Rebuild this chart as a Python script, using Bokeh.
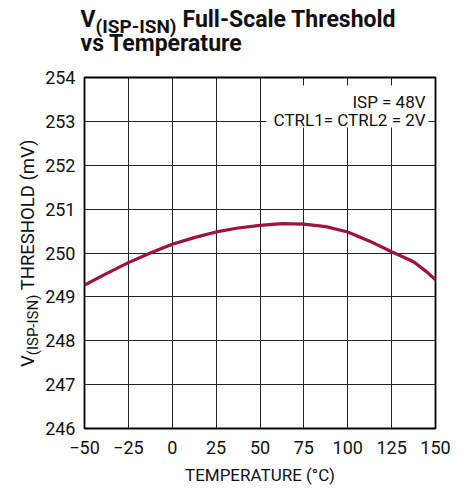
from bokeh.plotting import figure
from bokeh.layouts import column, row
from bokeh.models import Label, BoxAnnotation, Range1d, FixedTicker, Div
from bokeh.embed import file_html
from bokeh.resources import INLINE

# ---- data ----
temperature = [-50, -37.5, -25, -12.5, 0, 12.5, 25, 37.5, 50, 62.5, 75, 87.5, 100, 112.5, 125, 137.5, 145, 150]
threshold_mv = [249.27, 249.53, 249.78, 250.00, 250.20, 250.35, 250.48, 250.57, 250.63, 250.67, 250.66, 250.60,
                250.48, 250.27, 250.03, 249.80, 249.57, 249.39]
x_ticks = [-50, -25, 0, 25, 50, 75, 100, 125, 150]
x_tick_labels = ["\u221250", "\u221225", "0", "25", "50", "75", "100", "125", "150"]
y_ticks = [246, 247, 248, 249, 250, 251, 252, 253, 254]
y_tick_labels = ["246", "247", "248", "249", "250", "251", "252", "253", "254"]

X0, X1 = -50, 150
Y0, Y1 = 246, 254

PW, PH = 466, 493
TH = 62          # title strip height
LW = 42          # y-label strip width
FL, FR, FT, FB = 82, 435, 77, 428  # frame edges in page px
FONT = "Roboto"
TXT = "#111111"
CURVE = "#9f123d"
DESC = 0.244     # baseline correction (fraction of font size)


# ---- title strip ----
t = figure(width=PW, height=TH, output_backend="svg", toolbar_location=None,
           x_range=Range1d(0, PW), y_range=Range1d(0, TH),
           x_axis_location=None, y_axis_location=None,
           min_border=0, min_border_left=0, min_border_right=0,
           min_border_top=0, min_border_bottom=0)
t.outline_line_color = None
t.grid.visible = False
t.background_fill_color = "white"
t.border_fill_color = "white"


def tlab(text, x, y, size):
    t.add_layout(Label(x=x, y=TH - (y - DESC * size), text=text, text_font=FONT,
                       text_font_size=f"{size}px", text_font_style="bold",
                       text_align="left", text_baseline="alphabetic", text_color=TXT))


tlab("V", 80, 25, 23)
tlab("(ISP-ISN)", 95, 31, 19)
tlab("Full-Scale Threshold", 182, 25, 23)
tlab("vs Temperature", 80, 49, 23)

# ---- y-axis title strip (rotated HTML text with subscript) ----
YL_SIZE = 18.5
YL_BASE_X = 35.0     # page px of the baseline
YL_START_Y = 367.0   # page px where the text starts (reads upwards)
ylab_html = (
    f'<div style="position:relative;width:{LW}px;height:{PH - TH}px;">'
    f'<div style="position:absolute;left:{YL_BASE_X - 0.842 * YL_SIZE:.1f}px;top:{YL_START_Y - TH:.1f}px;'
    f'transform:rotate(-90deg);transform-origin:0 0;white-space:nowrap;font-family:Roboto;'
    f'font-size:{YL_SIZE}px;line-height:{YL_SIZE}px;color:{TXT};">'
    f'V<span style="font-size:15px;vertical-align:-3.5px;line-height:0;">(ISP-ISN)</span> THRESHOLD (mV)'
    f'</div></div>'
)
yl = Div(text=ylab_html, width=LW, height=PH - TH, margin=0, styles={"overflow": "visible"})

# ---- main chart ----
p = figure(width=PW - LW, height=PH - TH, output_backend="svg", toolbar_location=None,
           x_range=Range1d(X0, X1), y_range=Range1d(Y0, Y1),
           min_border_left=FL - LW, min_border_right=PW - FR,
           min_border_top=FT - TH, min_border_bottom=PH - FB)
p.background_fill_color = "white"
p.border_fill_color = "white"
p.outline_line_color = "black"
p.outline_line_width = 1.8

for ax in (p.xaxis[0], p.yaxis[0]):
    ax.axis_line_color = None
    ax.major_tick_line_color = None
    ax.minor_tick_line_color = None
    ax.major_tick_out = 0
    ax.major_tick_in = 0
    ax.minor_tick_out = 0
    ax.major_label_text_font = FONT
    ax.major_label_text_font_size = "18px"
    ax.major_label_text_color = TXT

p.xaxis[0].ticker = FixedTicker(ticks=x_ticks)
p.yaxis[0].ticker = FixedTicker(ticks=y_ticks)
p.xaxis[0].major_label_overrides = {t_: l_ for t_, l_ in zip(x_ticks, x_tick_labels)}
p.yaxis[0].major_label_overrides = {t_: l_ for t_, l_ in zip(y_ticks, y_tick_labels)}
p.xaxis[0].major_label_standoff = 12
p.yaxis[0].major_label_standoff = 9

p.xaxis[0].axis_label = "TEMPERATURE (\u00b0C)"
p.xaxis[0].axis_label_text_font = FONT
p.xaxis[0].axis_label_text_font_size = "17px"
p.xaxis[0].axis_label_text_font_style = "normal"
p.xaxis[0].axis_label_text_color = TXT
p.xaxis[0].axis_label_standoff = 8

p.xgrid[0].ticker = FixedTicker(ticks=x_ticks)
p.ygrid[0].ticker = FixedTicker(ticks=y_ticks)
for g in (p.xgrid[0], p.ygrid[0]):
    g.grid_line_color = "#222222"
    g.grid_line_width = 1

p.line(temperature, threshold_mv, line_color=CURVE, line_width=3.2)


def xd(px):
    return X0 + (px - FL) * (X1 - X0) / (FR - FL)


def yd(py):
    return Y1 - (py - FT) * (Y1 - Y0) / (FB - FT)


# condition box
p.add_layout(BoxAnnotation(left=xd(265), right=xd(428), top=yd(85), bottom=yd(127),
                           fill_color="white", fill_alpha=1, line_alpha=0))
for txt, base in (("ISP = 48V", 106), ("CTRL1= CTRL2 = 2V", 124)):
    p.add_layout(Label(x=xd(425), y=yd(base - DESC * 17), text=txt, text_font=FONT,
                       text_font_size="17px", text_align="right", text_baseline="alphabetic",
                       text_color=TXT))

layout = column(t, row(yl, p))
open("out.html", "w").write(file_html(layout, INLINE))
